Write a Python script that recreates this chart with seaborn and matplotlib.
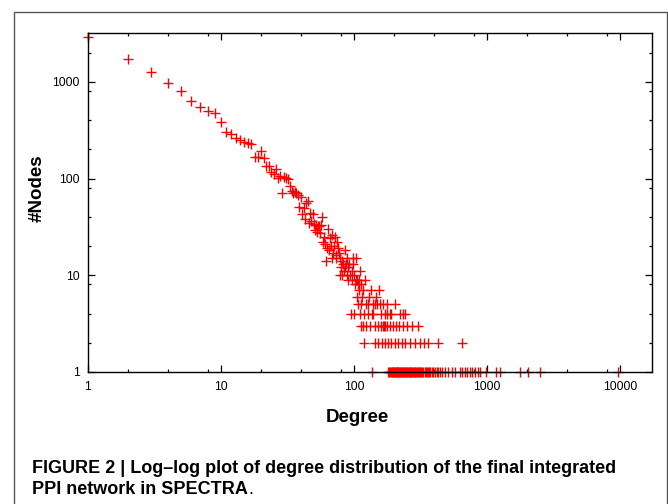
import numpy as np
import pandas as pd
import matplotlib
matplotlib.use("Agg")
import matplotlib.pyplot as plt
import seaborn as sns
from matplotlib.ticker import FixedLocator, FixedFormatter, NullFormatter
from matplotlib.patches import Rectangle

# ---- data (degree k -> number of nodes) ----
deg_main = [1, 2, 3, 4, 5, 6, 7, 8, 9, 10, 11, 12, 13, 14, 15, 16, 17, 18, 19, 20,
            21, 22, 23, 24, 25, 26, 27, 28, 29, 30, 31, 32, 33, 34, 35, 36, 37, 38,
            39, 40, 41, 42, 43, 44, 45, 46, 47, 48, 49, 50, 51, 52, 53, 54, 55, 56,
            57, 58, 59, 60, 61, 62, 63, 64, 65, 66, 67, 68, 69, 70, 71, 72, 73, 74,
            75, 76, 77, 78, 79, 80, 81, 82, 83, 84, 85, 86, 87, 88, 89, 90, 91, 92,
            93, 96, 97, 98, 99, 100, 102, 103, 104, 105, 106, 107, 109, 110, 111,
            114, 116, 118, 121, 130, 135, 147, 153]
cnt_main = [2940, 1714, 1276, 967, 811, 630, 550, 503, 480, 385, 301, 291, 262, 252,
            237, 231, 228, 168, 168, 193, 163, 136, 136, 117, 111, 125, 101, 105, 71,
            103, 101, 99, 84, 75, 71, 73, 70, 67, 51, 65, 43, 50, 38, 56, 59, 35, 44,
            36, 43, 34, 29, 33, 28, 32, 32, 27, 33, 40, 22, 25, 21, 14, 19, 30, 18,
            24, 20, 15, 26, 17, 20, 25, 16, 15, 22, 19, 17, 15, 10, 12, 14, 10, 13,
            11, 12, 18, 13, 15, 10, 12, 9, 13, 10, 9, 11, 13, 15, 10, 8, 9, 15, 9, 6,
            8, 7, 9, 11, 8, 6, 7, 9, 6, 7, 6, 7]
deg_n5 = [108, 114, 123, 128, 138, 144, 150, 157, 166, 177, 204]
deg_n4 = [95, 101, 112, 120, 127, 136, 139, 161, 170, 178, 186, 190, 220, 232, 241]
deg_n3 = [113, 117, 124, 132, 145, 152, 160, 165, 168, 172, 176, 185, 197, 208, 219,
          234, 249, 272, 304]
deg_n2 = [119, 143, 151, 162, 171, 180, 191, 202, 214, 228, 242, 265, 286, 311, 337,
          363, 430, 648]
deg_n1 = [137, 181, 183, 187, 189, 192, 194, 196, 199, 201, 203, 206, 209, 211, 213,
          216, 218, 222, 224, 226, 230, 233, 236, 238, 243, 245, 248, 251, 254, 257,
          260, 263, 267, 270, 274, 278, 281, 285, 289, 293, 297, 301, 306, 310, 315,
          320, 326, 332, 340, 345, 352, 360, 368, 375, 383, 392, 405, 418, 430, 445,
          460, 482, 508, 544, 577, 621, 650, 677, 705, 748, 770, 818, 847, 880, 985,
          1170, 1260, 1780, 2040, 2490, 9560]

x_ticks = [1, 10, 100, 1000, 10000]
x_tick_labels = ["1", "10", "100", "1000", "10000"]
y_ticks = [1, 10, 100, 1000]
y_tick_labels = ["1", "10", "100", "1000"]

degrees = deg_main + deg_n5 + deg_n4 + deg_n3 + deg_n2 + deg_n1
counts = (cnt_main + [5] * len(deg_n5) + [4] * len(deg_n4) + [3] * len(deg_n3)
          + [2] * len(deg_n2) + [1] * len(deg_n1))
df = pd.DataFrame({"Degree": degrees, "Nodes": counts})

sns.set_theme(style="ticks")
plt.rcParams["font.family"] = ["Liberation Sans", "DejaVu Sans"]
plt.rcParams["text.color"] = "black"
plt.rcParams["axes.labelcolor"] = "black"
plt.rcParams["xtick.color"] = "black"
plt.rcParams["ytick.color"] = "black"

fig = plt.figure(figsize=(6.68, 5.04), dpi=100)
fig.patch.set_facecolor("white")

# outer frame
fig.patches.append(Rectangle((14.3 / 668, -0.1), (666.7 - 14.3) / 668, 1.1 - 12.3 / 504,
                             transform=fig.transFigure, fill=False,
                             edgecolor="#555555", linewidth=1.0, zorder=0))

ax = fig.add_axes([87.5 / 668, 1 - 371.7 / 504, (651.7 - 87.5) / 668, (371.7 - 33.3) / 504])
ax.set_facecolor("white")

sns.scatterplot(data=df, x="Degree", y="Nodes", ax=ax, marker="+", color="#ff0000",
                s=45, linewidth=1.0, legend=False, clip_on=False, zorder=1)

ax.set_xscale("log")
ax.set_yscale("log")
ax.set_xlim(1, 17200)
ax.set_ylim(1, 3190)

ax.xaxis.set_major_locator(FixedLocator(x_ticks))
ax.xaxis.set_major_formatter(FixedFormatter(x_tick_labels))
ax.yaxis.set_major_locator(FixedLocator(y_ticks))
ax.yaxis.set_major_formatter(FixedFormatter(y_tick_labels))
xmin = [m * d for d in [1, 10, 100, 1000, 10000] for m in (2, 4, 8) if m * d < 17200]
ymin = [m * d for d in [1, 10, 100, 1000] for m in (2, 4, 8) if m * d < 3190]
ax.xaxis.set_minor_locator(FixedLocator(xmin))
ax.yaxis.set_minor_locator(FixedLocator(ymin))
ax.xaxis.set_minor_formatter(NullFormatter())
ax.yaxis.set_minor_formatter(NullFormatter())

ax.tick_params(which="both", direction="in", top=True, right=True, colors="black",
               labelcolor="black", width=0.9, labelsize=8.7)
ax.tick_params(which="major", length=4.8)
ax.tick_params(which="minor", length=2.4)
ax.tick_params(axis="x", which="major", pad=7)
ax.tick_params(axis="y", which="major", pad=5.5)
for sp in ax.spines.values():
    sp.set_visible(True)
    sp.set_color("black")
    sp.set_linewidth(1.0)
    sp.set_zorder(3)

ax.set_xlabel("")
ax.set_ylabel("")
fig.text(357.5 / 668, 1 - 422 / 504, "Degree", ha="center", va="baseline",
         fontsize=13.5, fontweight="bold", color="black")
fig.text(36.7 / 668, 1 - 188 / 504, "#Nodes", ha="center", va="center",
         rotation=90, fontsize=13.5, fontweight="bold", color="black")

fig.text(32 / 668, 1 - 473.3 / 504,
         "FIGURE 2 | Log\u2013log plot of degree distribution of the final integrated",
         ha="left", va="baseline", fontsize=13, fontweight="bold", color="black")
t2 = fig.text(32 / 668, 1 - 494 / 504, "PPI network in SPECTRA", ha="left",
              va="baseline", fontsize=13, fontweight="bold", color="black")
fig.canvas.draw()
bb = t2.get_window_extent()
fig.text(bb.x1 / fig.bbox.width + 0.5 / 668, 1 - 494 / 504, ".", ha="left",
         va="baseline", fontsize=13, fontweight="normal", color="black")

fig.savefig("out.png", dpi=100, facecolor="white")
